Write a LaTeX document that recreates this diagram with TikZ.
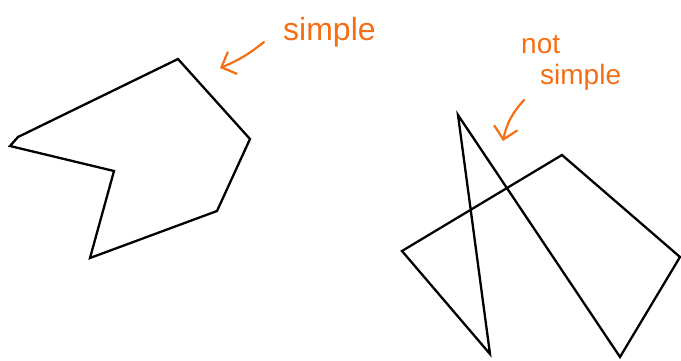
\documentclass[tikz,border=0pt]{standalone}
\usepackage{fontspec}
\setmainfont{Liberation Sans}
\usetikzlibrary{arrows.meta}
\definecolor{hand}{RGB}{245,110,20}
\tikzset{
  poly/.style={draw=black, line width=2.3pt, line join=miter},
  note/.style={text=hand, font=\fontsize{28}{28}\selectfont, inner sep=0pt},
  bignote/.style={note, font=\fontsize{32}{32}\selectfont},
  pointer/.style={draw=hand, line width=2.2pt, line cap=round, -{Straight Barb[length=12pt,width=24pt,line width=2.2pt]}}
}
\begin{document}
\begin{tikzpicture}[x=1pt,y=-1pt]
\useasboundingbox (0,0) rectangle (681,360);
% left simple polygon
\coordinate (a1) at (18,137);
\coordinate (a2) at (10,146);
\coordinate (a3) at (114,171);
\coordinate (a4) at (90,258);
\coordinate (a5) at (217,211);
\coordinate (a6) at (250,139);
\coordinate (a7) at (178,59);
\draw[poly] (a1) -- (a2) -- (a3) -- (a4) -- (a5) -- (a6) -- (a7) -- cycle;
% right non-simple polygon
\coordinate (b1) at (458,115);
\coordinate (b2) at (490,354);
\coordinate (b3) at (402,251);
\coordinate (b4) at (562,155);
\coordinate (b5) at (680,257);
\coordinate (b6) at (620,357);
\draw[poly] (b1) -- (b2) -- (b3) -- (b4) -- (b5) -- (b6) -- cycle;
% labels
\node[bignote, anchor=base west] (s1) at (283,40) {simple};
\coordinate (s1a) at (264,42);
\coordinate (s1b) at (220,68);
\draw[pointer] (s1a) to[bend left=8] (s1b);
\node[note, anchor=base west] (n2) at (521,53) {not};
\node[note, anchor=base west] (s2) at (540,84) {simple};
\coordinate (s2a) at (524,100);
\coordinate (s2b) at (503,141);
\draw[pointer] (s2a) to[bend right=15] (s2b);
\end{tikzpicture}
\end{document}
